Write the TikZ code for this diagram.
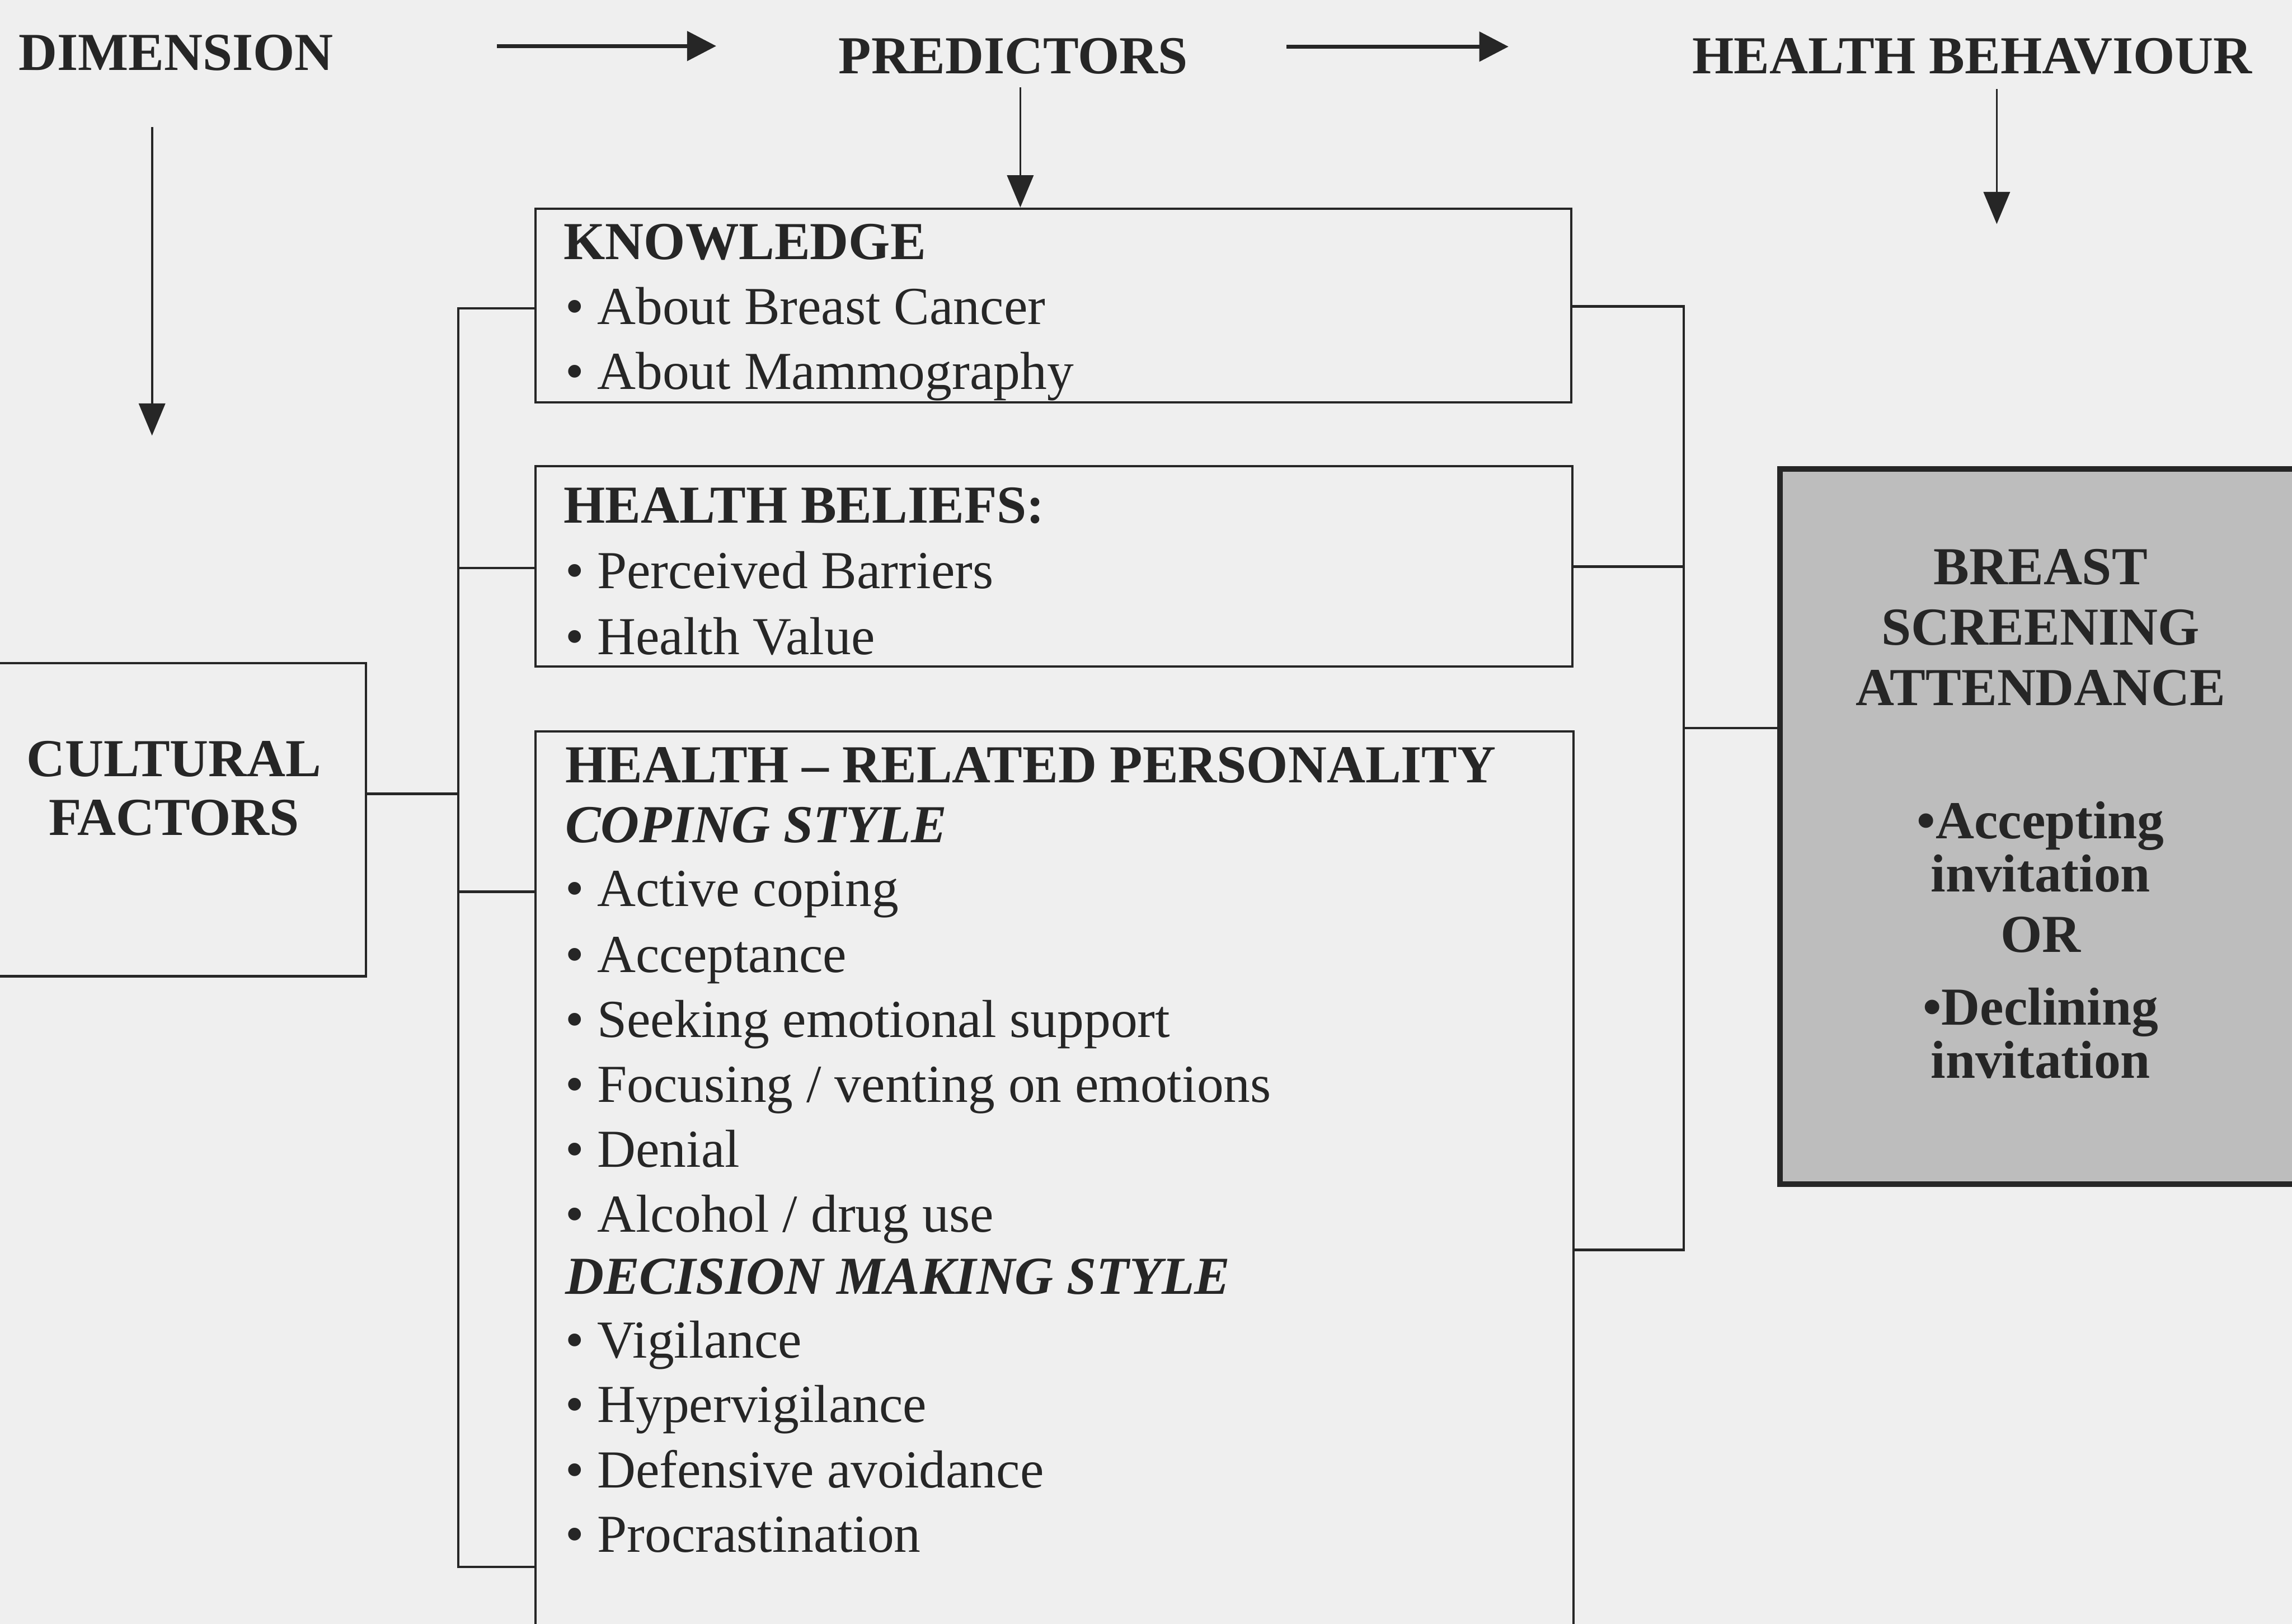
\documentclass[tikz,border=0pt]{standalone}
\usepackage{fontspec}
\setmainfont{Liberation Serif}
\usetikzlibrary{arrows.meta}
\definecolor{paper}{HTML}{EFEFEF}
\definecolor{screenfill}{HTML}{BDBDBD}
\definecolor{ink}{HTML}{262626}
\begin{document}
\begin{tikzpicture}[x=1cm,y=1cm,
  every node/.style={font=\fontsize{10.4}{12.5}\selectfont, inner sep=0pt, text=ink},
  box/.style={draw=ink, line width=0.45pt, anchor=north west, inner sep=0pt},
  item/.style={anchor=base west},
  hd/.style={anchor=base west, font=\fontsize{10.4}{12.5}\selectfont\bfseries},
  sub/.style={anchor=base west, font=\fontsize{10.4}{12.5}\selectfont\bfseries\itshape},
  ctr/.style={anchor=base, font=\fontsize{10.4}{12.5}\selectfont\bfseries},
  link/.style={draw=ink, line width=0.45pt},
  bigarrow/.style={draw=ink, line width=0.8pt, -{Triangle[length=2mm,width=2mm]}},
  downarrow/.style={draw=ink, line width=0.4pt, -{Triangle[length=2.2mm,width=1.8mm]}}
]
\clip (0,0) rectangle (15.68,-11.108);
\fill[paper] (0,0) rectangle (15.68,-11.108);

% top row
\node[hd] (dim) at (0.12,-0.482) {DIMENSION};
\node[hd] (pred) at (5.73,-0.502) {PREDICTORS};
\node[hd] (hbeh) at (11.57,-0.502) {HEALTH BEHAVIOUR};
\coordinate (a1s) at (3.40,-0.315);
\coordinate (a1e) at (4.90,-0.315);
\coordinate (a2s) at (8.80,-0.319);
\coordinate (a2e) at (10.32,-0.319);
\draw[bigarrow] (a1s) -- (a1e);
\draw[bigarrow] (a2s) -- (a2e);

% boxes
\node[box, minimum width=7.085cm, minimum height=1.325cm] (know) at (3.655,-1.419) {};
\node[box, minimum width=7.095cm, minimum height=1.373cm] (hbel) at (3.655,-3.180) {};
\node[box, minimum width=7.099cm, minimum height=6.400cm] (hrp) at (3.657,-4.996) {};
\node[box, minimum width=2.745cm, minimum height=2.140cm] (cult) at (-0.25,-4.530) {};
\node[box, fill=screenfill, line width=1.1pt, minimum width=3.80cm, minimum height=4.891cm] (bsa) at (12.157,-3.189) {};

% down arrows
\coordinate (d1s) at (1.04,-0.87);
\coordinate (d1e) at (1.04,-2.98);
\draw[downarrow] (d1s) -- (d1e);
\draw[downarrow] (6.98,-0.596) coordinate (d2s) -- (know.north -| d2s);
\draw[downarrow] (13.66,-0.61) coordinate (d3s) -- (13.66,-1.533) coordinate (d3e);

% left bracket
\coordinate (lt) at (3.134,-2.108);
\coordinate (lb) at (3.134,-10.72);
\draw[link] (know.west |- lt) -- (lt) -- (lb) -- (hrp.west |- lb);
\coordinate (lhb) at (3.134,-3.887);
\draw[link] (lhb) -- (hbel.west |- lhb);
\coordinate (lhr) at (3.134,-6.10);
\draw[link] (lhr) -- (hrp.west |- lhr);
\coordinate (lcu) at (3.134,-5.43);
\draw[link] (cult.east |- lcu) -- (lcu);

% right bracket
\coordinate (rt) at (11.52,-2.096);
\coordinate (rb) at (11.52,-8.55);
\draw[link] (know.east |- rt) -- (rt) -- (rb) -- (hrp.east |- rb);
\coordinate (rhb) at (11.52,-3.876);
\draw[link] (hbel.east |- rhb) -- (rhb);
\coordinate (rbs) at (11.52,-4.98);
\draw[link] (rbs) -- (bsa.west |- rbs);

% knowledge text
\node[hd] (k0) at (3.85,-1.775) {KNOWLEDGE};
\node[item] (k1) at (3.86,-2.218) {\textbullet\ About Breast Cancer};
\node[item] (k2) at (3.86,-2.663) {\textbullet\ About Mammography};

% health beliefs text
\node[hd] (b0) at (3.85,-3.577) {HEALTH BELIEFS:};
\node[item] (b1) at (3.86,-4.025) {\textbullet\ Perceived Barriers};
\node[item] (b2) at (3.86,-4.477) {\textbullet\ Health Value};

% health related personality text
\node[hd] (p0) at (3.86,-5.352) {HEALTH – RELATED PERSONALITY};
\node[sub] (p1) at (3.86,-5.765) {COPING STYLE};
\node[item] (p2) at (3.86,-6.200) {\textbullet\ Active coping};
\node[item] (p3) at (3.86,-6.650) {\textbullet\ Acceptance};
\node[item] (p4) at (3.86,-7.097) {\textbullet\ Seeking emotional support};
\node[item] (p5) at (3.86,-7.540) {\textbullet\ Focusing / venting on emotions};
\node[item] (p6) at (3.86,-7.985) {\textbullet\ Denial};
\node[item] (p7) at (3.86,-8.428) {\textbullet\ Alcohol / drug use};
\node[sub] (p8) at (3.86,-8.853) {DECISION MAKING STYLE};
\node[item] (p9) at (3.86,-9.290) {\textbullet\ Vigilance};
\node[item] (p10) at (3.86,-9.730) {\textbullet\ Hypervigilance};
\node[item] (p11) at (3.86,-10.177) {\textbullet\ Defensive avoidance};
\node[item] (p12) at (3.86,-10.619) {\textbullet\ Procrastination};

% cultural factors
\node[ctr] (c1) at (1.19,-5.31) {CULTURAL};
\node[ctr] (c2) at (1.19,-5.715) {FACTORS};

% breast screening attendance
\node[ctr] (s1) at (13.96,-3.999) {BREAST};
\node[ctr] (s2) at (13.96,-4.412) {SCREENING};
\node[ctr] (s3) at (13.96,-4.825) {ATTENDANCE};
\node[ctr] (s4) at (13.96,-5.738) {\textbullet Accepting};
\node[ctr] (s5) at (13.96,-6.100) {invitation};
\node[ctr] (s6) at (13.96,-6.513) {OR};
\node[ctr] (s7) at (13.96,-7.010) {\textbullet Declining};
\node[ctr] (s8) at (13.96,-7.374) {invitation};
\end{tikzpicture}
\end{document}
